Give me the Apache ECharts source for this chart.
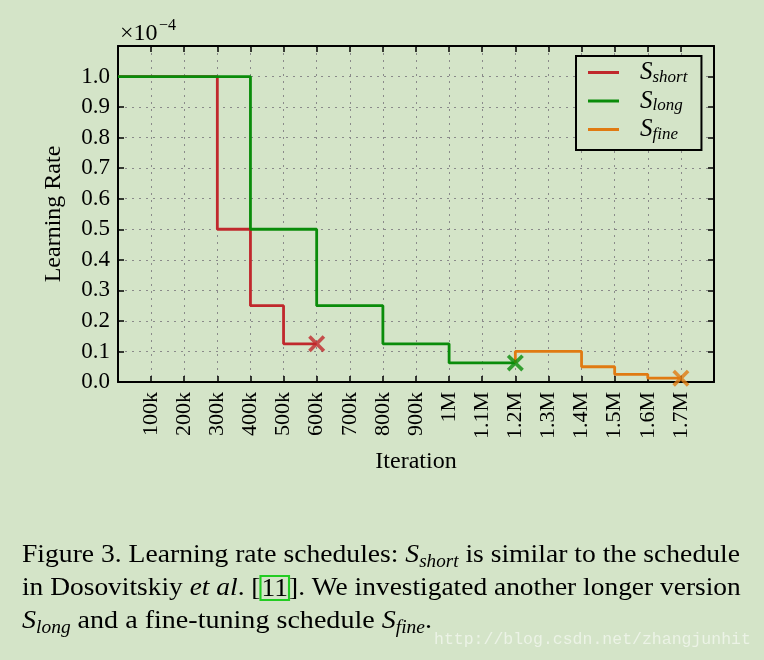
<!DOCTYPE html>
<html><head><meta charset="utf-8">
<script src="https://cdn.jsdelivr.net/npm/echarts@6/dist/echarts.min.js"></script>
<style>html,body{margin:0;padding:0;background:#d4e4c8;}#c{width:764px;height:660px;}</style>
</head><body><div id="c"></div>
<script>
// Data (x in iterations, y in units of 1e-4)
const shortX = [0, 300000, 400000, 500000, 600000];
const shortY = [1.0, 0.5, 0.25, 0.125, 0.125];
const longX = [0, 400000, 600000, 800000, 1000000, 1200000];
const longY = [1.0, 0.5, 0.25, 0.125, 0.0625, 0.0625];
const fineX = [1200000, 1200000, 1400000, 1500000, 1600000, 1700000];
const fineY = [0.0625, 0.1, 0.05, 0.025, 0.0125, 0.0125];
const xTickLabels = ['100k','200k','300k','400k','500k','600k','700k','800k','900k','1M','1.1M','1.2M','1.3M','1.4M','1.5M','1.6M','1.7M'];
const yTickLabels = ['0.0','0.1','0.2','0.3','0.4','0.5','0.6','0.7','0.8','0.9','1.0'];

const BG = '#d4e4c8';
const RED = '#c0282c', GREEN = '#0a8c0a', ORANGE = '#e07a12';
const SERIF = '"Liberation Serif", "DejaVu Serif", serif';
const XSYM = 'path://M0,1.5 L1.5,0 L5,3.5 L8.5,0 L10,1.5 L6.5,5 L10,8.5 L8.5,10 L5,6.5 L1.5,10 L0,8.5 L3.5,5 Z';

const zip = (xs, ys) => xs.map((x, i) => [x, ys[i]]);

const chart = echarts.init(document.getElementById('c'), null, {renderer: 'canvas'});
const lineSeries = (name, xs, ys, color) => ({
  name, type: 'line', step: 'end', data: zip(xs, ys), symbol: 'none',
  lineStyle: {color, width: 2.8}, itemStyle: {color}, z: 3
});
const endSeries = (name, xs, ys, color) => ({
  name, type: 'scatter', data: [[xs[xs.length - 1], ys[ys.length - 1]]],
  symbol: XSYM, symbolSize: 17, itemStyle: {color}, clip: true, z: 4, silent: true
});

const axisCommon = {
  type: 'value', min: 0, interval: 100000,
  axisLine: {show: true, onZero: false, lineStyle: {color: '#000', width: 2}},
  axisTick: {show: true, inside: true, length: 6, lineStyle: {color: '#000', width: 1.5}},
};

const subRich = (base, subPad) => ({
  S: {fontFamily: SERIF, fontStyle: 'italic', fontSize: base, color: '#000'},
  sub: {fontFamily: SERIF, fontStyle: 'italic', fontSize: Math.round(base * 0.68), color: '#000', padding: [subPad, 0, 0, 0]},
  t: {fontFamily: SERIF, fontSize: base, color: '#000'},
  cite: {fontFamily: SERIF, fontSize: base, color: '#000', borderColor: '#22cc22', borderWidth: 2, padding: [0, 1, -2, 1]}
});

const captionLine = (text, y, sx) => ({
  type: 'text', x: 22, y, scaleX: sx, scaleY: 1, originX: 0, originY: 0,
  style: {text, rich: subRich(26, 14), fontFamily: SERIF, fontSize: 26, fill: '#000'}
});

chart.setOption({
  backgroundColor: BG,
  animation: false,
  grid: {left: 118, right: 50, top: 46, bottom: 278, containLabel: false},
  xAxis: [
    Object.assign({}, axisCommon, {
      max: 1800000, position: 'bottom',
      name: 'Iteration', nameLocation: 'middle', nameGap: 68,
      nameTextStyle: {fontFamily: SERIF, fontSize: 24, color: '#000'},
      axisLabel: {
        rotate: 90, margin: 10, fontFamily: SERIF, fontSize: 22, color: '#000',
        formatter: v => { const i = Math.round(v / 100000) - 1; return xTickLabels[i] || ''; }
      },
      splitLine: {show: true, lineStyle: {color: '#8a8a8a', type: [2, 5], width: 1}}
    }),
    Object.assign({}, axisCommon, {
      max: 1800000, position: 'top',
      axisLabel: {show: false}, splitLine: {show: false}
    })
  ],
  yAxis: [
    Object.assign({}, axisCommon, {
      max: 1.1, interval: 0.1, position: 'left',
      name: 'Learning Rate', nameLocation: 'middle', nameGap: 52,
      nameTextStyle: {fontFamily: SERIF, fontSize: 24, color: '#000'},
      axisLabel: {
        margin: 8, fontFamily: SERIF, fontSize: 23, color: '#000',
        formatter: v => { const i = Math.round(v * 10); return yTickLabels[i] || ''; }
      },
      splitLine: {show: true, lineStyle: {color: '#8a8a8a', type: [2, 5], width: 1}}
    }),
    Object.assign({}, axisCommon, {
      max: 1.1, interval: 0.1, position: 'right',
      axisLabel: {show: false}, splitLine: {show: false}
    })
  ],
  legend: {
    orient: 'vertical', left: 576, top: 56,
    data: ['short', 'long', 'fine'],
    backgroundColor: BG, borderColor: '#000', borderWidth: 2, borderRadius: 0,
    padding: [4, 14, 7, 12], itemGap: 2.5, itemWidth: 31, itemHeight: 22,
    icon: 'path://M0,0 L31,0 L31,3 L0,3 Z',
    formatter: n => '{S|S}{sub|' + n + '}',
    textStyle: {rich: subRich(25, 10), padding: [0, 0, 0, 16]}
  },
  series: [
    lineSeries('short', shortX, shortY, RED),
    lineSeries('long', longX, longY, GREEN),
    lineSeries('fine', fineX, fineY, ORANGE),
    endSeries('shortEnd', shortX, shortY, RED),
    endSeries('longEnd', longX, longY, GREEN),
    endSeries('fineEnd', fineX, fineY, ORANGE)
  ],
  graphic: [
    {type: 'text', x: 120, y: 22, style: {text: '×10', fontFamily: SERIF, fontSize: 24, fill: '#000'}},
    {type: 'text', x: 159, y: 18, style: {text: '−4', fontFamily: SERIF, fontSize: 16, fill: '#000'}},
    captionLine('Figure 3. Learning rate schedules: {S|S}{sub|short} is similar to the schedule', 539, 1.062),
    captionLine('in Dosovitskiy {S|et al}. [{cite|11}]. We investigated another longer version', 575, 1.055),
    captionLine('{S|S}{sub|long} and a fine-tuning schedule {S|S}{sub|fine}.', 605, 1.08),
    {type: 'text', x: 434, y: 631, style: {text: 'http://blog.csdn.net/zhangjunhit', fontFamily: '"Liberation Mono", monospace', fontSize: 16.5, fill: 'rgba(255,255,255,0.55)'}}
  ]
});
</script></body></html>
